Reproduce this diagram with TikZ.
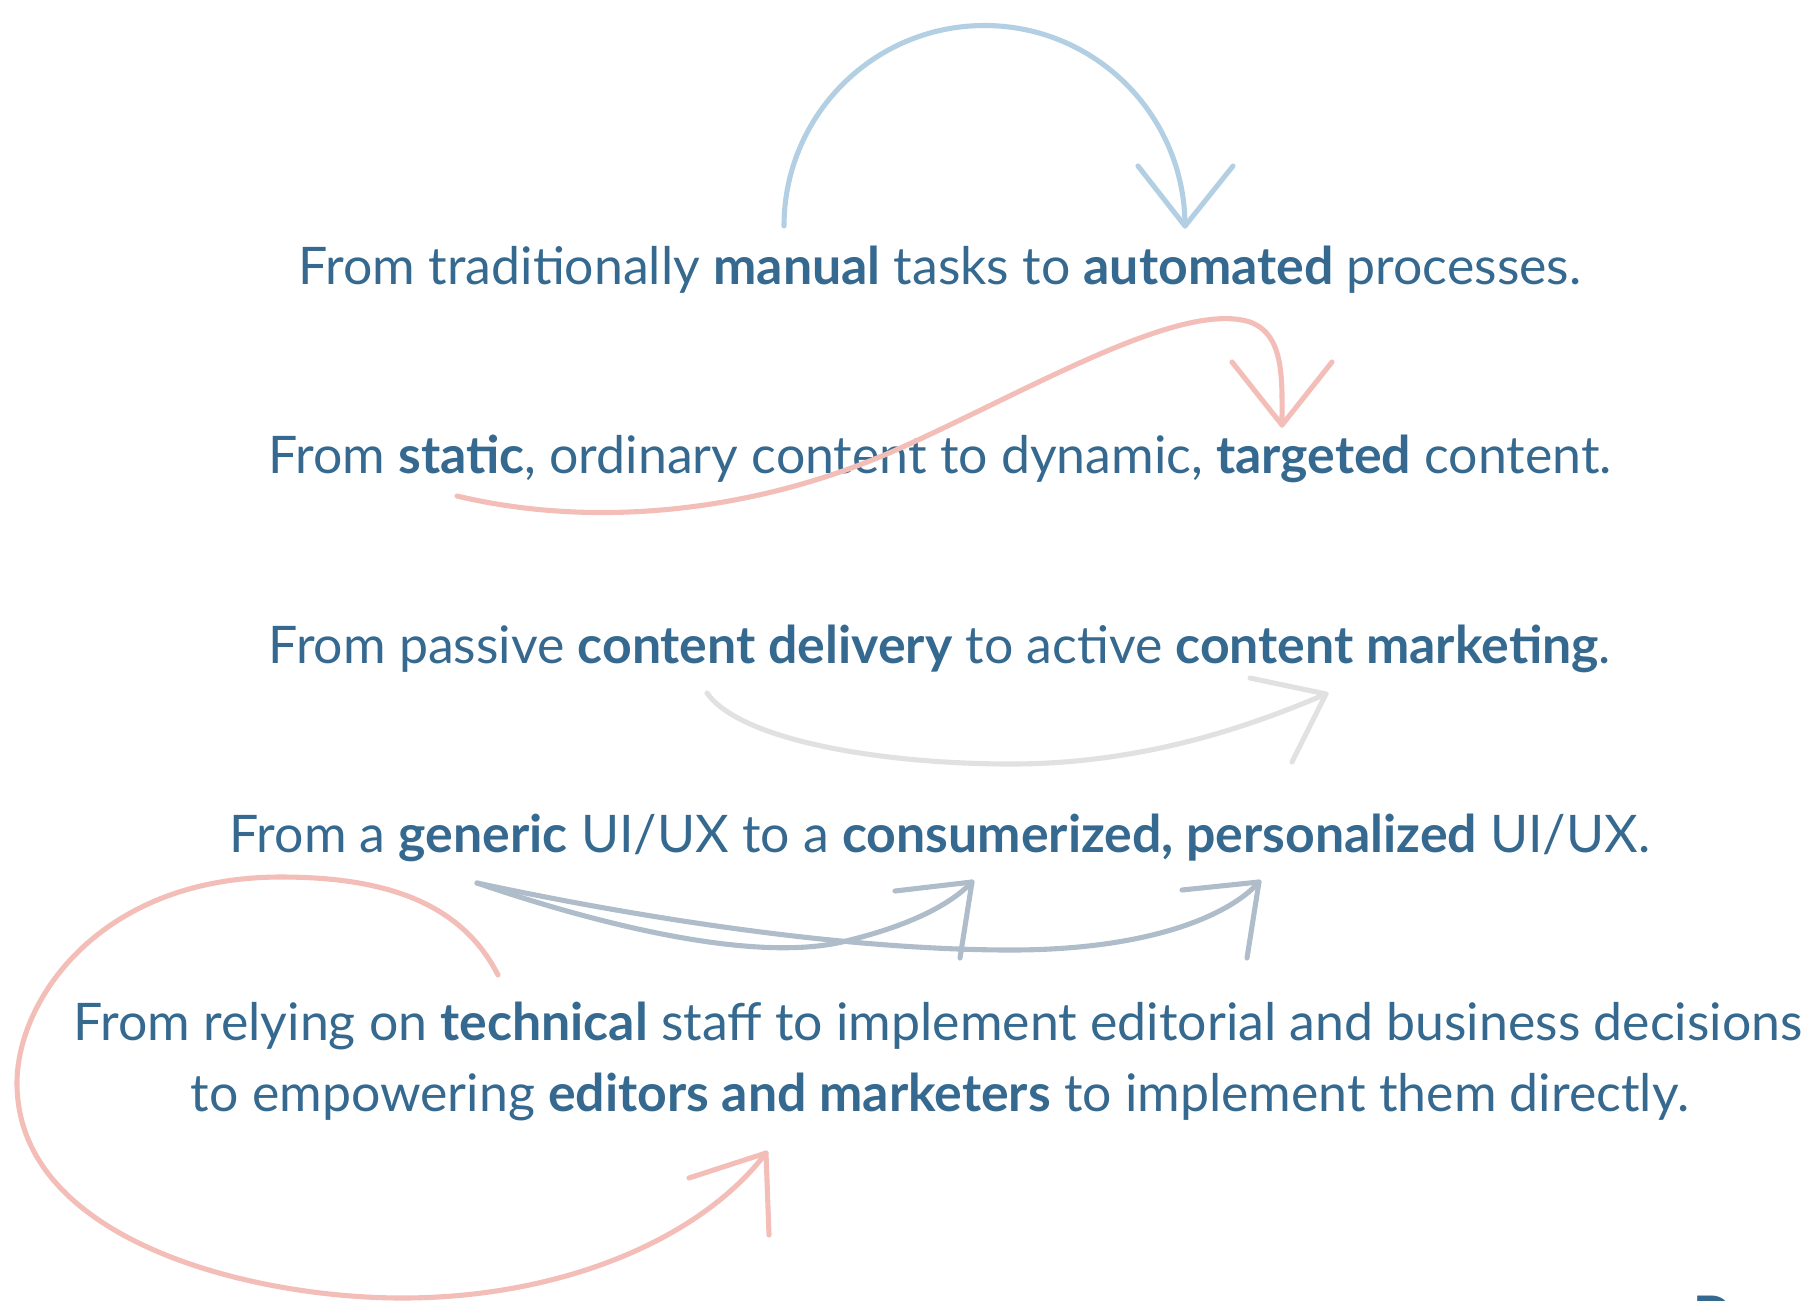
\documentclass[tikz,border=0pt]{standalone}
\usepackage{fontspec}
\setmainfont{Lato}
\usepackage{tikz}
\definecolor{ink}{HTML}{35698F}
\definecolor{sky}{HTML}{B3CFE3}
\definecolor{blush}{HTML}{F3BDB8}
\definecolor{mist}{HTML}{E1E1E1}
\definecolor{slate}{HTML}{AFBDCB}
\tikzset{every picture/.style = {x=0.1mm, y=-0.1mm, line cap=round, line join=round}}
\tikzset{says/.style = {ink, font=\fontsize{14.74}{20}\selectfont, anchor=base, inner sep=0}}
\tikzset{swoop/.style = {line width=1.45pt}}

\begin{document}
\begin{tikzpicture}
  \useasboundingbox (0, 0) rectangle (1802, 1300);
  \node[says] (manual) at (940, 284) {From traditionally \textbf{manual} tasks to \textbf{automated} processes.};
  \node[says] (static) at (940, 473) {From \textbf{static}, ordinary content to dynamic, \textbf{targeted} content.};
  \node[says] (passive) at (940, 663) {From passive \textbf{content delivery} to active \textbf{content marketing}.};
  \node[says] (generic) at (940, 852) {From a \textbf{generic} UI/UX to a \textbf{consumerized, personalized} UI/UX.};
  \node[says] (relying) at (938, 1040) {From relying on \textbf{technical} staff to implement editorial and business decisions};
  \node[says] (empower) at (940, 1111) {to empowering \textbf{editors and marketers} to implement them directly.};
  \node[says, anchor=base west] (next) at (1693, 1333) {\textbf{D}};

  % manual -> automated
  \coordinate (a1s) at (784, 226);
  \coordinate (a1t) at (1185, 226);
  \draw[swoop, sky] (a1s) arc (180:360:200.5);
  \draw[swoop, sky] (1138, 166) -- (a1t) -- (1233, 166);

  % static -> targeted
  \coordinate (a2s) at (457, 496);
  \coordinate (a2t) at (1282, 425);
  \draw[swoop, blush] (a2s) .. controls (600, 530) and (760, 510) .. (896, 450)
    .. controls (1030, 390) and (1180, 300) .. (1250, 322)
    .. controls (1285, 335) and (1282, 380) .. (a2t);
  \draw[swoop, blush] (1232, 362) -- (a2t) -- (1332, 362);

  % delivery -> marketing
  \coordinate (a3s) at (707, 693);
  \coordinate (a3t) at (1326, 694);
  \draw[swoop, mist] (a3s) .. controls (740, 740) and (880, 764) .. (1011, 764)
    .. controls (1150, 764) and (1260, 722) .. (a3t);
  \draw[swoop, mist] (1250, 678) -- (a3t) -- (1292, 762);

  % generic -> consumerized, personalized
  \coordinate (a4s) at (477, 883);
  \coordinate (a4t) at (972, 882);
  \coordinate (a5t) at (1259, 882);
  \draw[swoop, slate] (a4s) .. controls (600, 925) and (760, 965) .. (850, 940)
    .. controls (910, 925) and (950, 905) .. (a4t);
  \draw[swoop, slate] (895, 891) -- (a4t) -- (960, 958);
  \draw[swoop, slate] (a4s) .. controls (650, 920) and (850, 950) .. (1011, 950)
    .. controls (1150, 950) and (1230, 915) .. (a5t);
  \draw[swoop, slate] (1182, 890) -- (a5t) -- (1247, 958);

  % technical -> editors and marketers
  \coordinate (a6s) at (498, 975);
  \coordinate (a6t) at (766, 1153);
  \draw[swoop, blush] (a6s) .. controls (460, 900) and (380, 877) .. (281, 877)
    .. controls (100, 877) and (17, 1000) .. (17, 1083)
    .. controls (17, 1240) and (250, 1298) .. (402, 1298)
    .. controls (560, 1298) and (700, 1240) .. (a6t);
  \draw[swoop, blush] (689, 1178) -- (a6t) -- (769, 1235);
\end{tikzpicture}
\end{document}
